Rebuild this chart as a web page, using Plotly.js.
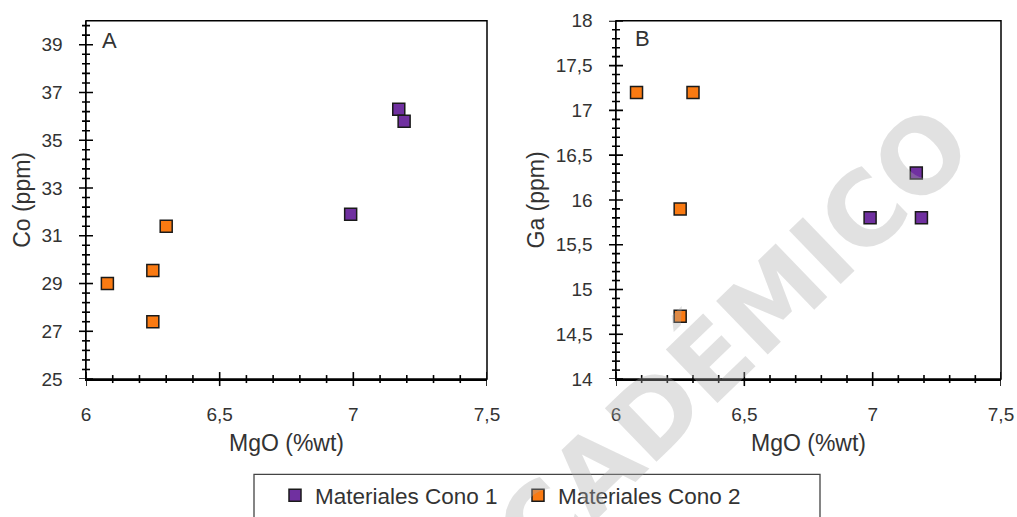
<!DOCTYPE html>
<html>
<head>
<meta charset="utf-8">
<script src="https://cdn.plot.ly/plotly-3.0.1.min.js"></script>
<style>html,body{margin:0;padding:0;background:#fff;}#chart{width:1017px;height:517px;}</style>
</head>
<body>
<div id="chart"></div>
<script>
// Data
const seriesNames = ['Materiales Cono 1', 'Materiales Cono 2'];
const mgoCono1 = [7.17, 7.19, 6.99];
const coCono1  = [36.3, 35.8, 31.9];
const gaCono1  = [16.3, 15.8, 15.8];
const mgoCono2 = [6.30, 6.08, 6.25, 6.25];
const coCono2  = [31.4, 29.0, 29.55, 27.4];
const gaCono2  = [17.2, 17.2, 15.9, 14.7];
const panelLabels = ['A', 'B'];
const xTitle = 'MgO (%wt)';
const yTitles = ['Co (ppm)', 'Ga (ppm)'];
const watermark = 'ACADÉMICO';

const purple = '#7030A0';
const orange = '#FA7A12';
const font = 'Liberation Sans, Arial, sans-serif';
const txt = '#333333';

function mk(color) {
  return {symbol: 'square', size: 12, color: color, line: {color: '#1a1a1a', width: 1.5}};
}

const traces = [
  {type: 'scatter', mode: 'markers', name: seriesNames[0], x: mgoCono1, y: coCono1, xaxis: 'x', yaxis: 'y', marker: mk(purple), legendgroup: 'c1'},
  {type: 'scatter', mode: 'markers', name: seriesNames[1], x: mgoCono2, y: coCono2, xaxis: 'x', yaxis: 'y', marker: mk(orange), legendgroup: 'c2'},
  {type: 'scatter', mode: 'markers', name: seriesNames[0], x: mgoCono1, y: gaCono1, xaxis: 'x2', yaxis: 'y2', marker: mk(purple), legendgroup: 'c1', showlegend: false},
  {type: 'scatter', mode: 'markers', name: seriesNames[1], x: mgoCono2, y: gaCono2, xaxis: 'x2', yaxis: 'y2', marker: mk(orange), legendgroup: 'c2', showlegend: false}
];

const xDomA = [86/1017, 487/1017];
const xDomB = [616/1017, 1001/1017];
const yDom = [1 - 382/517, 1 - 21/517];

function baseAxis(o) {
  return Object.assign({
    showgrid: false, zeroline: false, showline: true, linecolor: '#000', linewidth: 1.5,
    ticks: '', tickfont: {family: font, size: 19, color: txt}, ticklabelstandoff: 18
  }, o);
}

// Crossing tick marks (Excel "cross" style), drawn as axis-anchored pixel-length lines
const MAJ = 7, MIN = 4, TW = 1.6;
function xTicks(xr, yr, start, nSteps, step, majorEvery) {
  const out = [];
  for (let i = 0; i <= nSteps; i++) {
    const v = +(start + i * step).toFixed(6);
    const len = (i % majorEvery === 0) ? MAJ : MIN;
    out.push({type: 'line', xref: xr, yref: yr + ' domain', x0: v, x1: v,
      ysizemode: 'pixel', yanchor: 0, y0: -len, y1: len, line: {color: '#000', width: TW}, layer: 'above'});
  }
  return out;
}
function yTicks(xr, yr, start, nSteps, step, majorEvery) {
  const out = [];
  for (let i = 0; i <= nSteps; i++) {
    const v = +(start + i * step).toFixed(6);
    const len = (i % majorEvery === 0) ? MAJ : MIN;
    out.push({type: 'line', xref: xr + ' domain', yref: yr, y0: v, y1: v,
      xsizemode: 'pixel', xanchor: 0, x0: -len, x1: len, line: {color: '#000', width: TW}, layer: 'above'});
  }
  return out;
}

const frame = (xr, yr) => ({type: 'rect', xref: xr + ' domain', yref: yr + ' domain', x0: 0, x1: 1, y0: 0, y1: 1,
  line: {color: '#000', width: 1.5}, fillcolor: 'rgba(0,0,0,0)', layer: 'above'});

const shapes = [frame('x', 'y'), frame('x2', 'y2'),
  {type: 'rect', xref: 'paper', yref: 'paper', x0: 254/1017, x1: 820/1017, y0: 1 - 478/517, y1: -0.3,
   line: {color: '#444', width: 1.3}, fillcolor: 'rgba(0,0,0,0)'}]
  .concat(xTicks('x', 'y', 6, 15, 0.1, 5))
  .concat(yTicks('x', 'y', 25, 37, 0.4, 5))
  .concat(xTicks('x2', 'y2', 6, 15, 0.1, 5))
  .concat(yTicks('x2', 'y2', 14, 40, 0.1, 5));

const layout = {
  width: 1017, height: 517,
  margin: {l: 0, r: 0, t: 0, b: 0},
  paper_bgcolor: '#fff', plot_bgcolor: '#fff',
  separators: ', ',
  font: {family: font, color: txt},
  showlegend: true,
  legend: {orientation: 'h', x: 275/1017, xanchor: 'left', y: 1 - 478/517, yanchor: 'top',
    font: {family: font, size: 22.5, color: txt}, bgcolor: 'rgba(0,0,0,0)', borderwidth: 0,
    entrywidth: 198, entrywidthmode: 'pixels'},
  xaxis: baseAxis({domain: xDomA, anchor: 'y', range: [6, 7.5], tick0: 6, dtick: 0.5,
    title: {text: xTitle, font: {family: font, size: 23, color: txt}, standoff: 10}}),
  yaxis: baseAxis({domain: yDom, anchor: 'x', range: [25, 40], tick0: 25, dtick: 2,
    title: {text: yTitles[0], font: {family: font, size: 23, color: txt}, standoff: 4}}),
  xaxis2: baseAxis({domain: xDomB, anchor: 'y2', range: [6, 7.5], tick0: 6, dtick: 0.5,
    title: {text: xTitle, font: {family: font, size: 23, color: txt}, standoff: 10}}),
  yaxis2: baseAxis({domain: yDom, anchor: 'x2', range: [14, 18], tick0: 14, dtick: 0.5,
    title: {text: yTitles[1], font: {family: font, size: 23, color: txt}, standoff: 4}}),
  shapes: shapes,
  annotations: [
    {xref: 'paper', yref: 'paper', x: 100/1017, y: 1 - 41/517, xanchor: 'left', yanchor: 'middle',
     text: panelLabels[0], showarrow: false, font: {family: font, size: 22, color: txt}},
    {xref: 'paper', yref: 'paper', x: 633/1017, y: 1 - 39/517, xanchor: 'left', yanchor: 'middle',
     text: panelLabels[1], showarrow: false, font: {family: font, size: 22, color: txt}},
    {xref: 'paper', yref: 'paper', x: 705/1017, y: 1 - 368/517, xanchor: 'center', yanchor: 'middle',
     text: '<b>' + watermark + '</b>', showarrow: false, textangle: -44,
     font: {family: 'DejaVu Sans, sans-serif', size: 102, color: 'rgba(170,170,170,0.35)'}}
  ]
};

Plotly.newPlot('chart', traces, layout, {displayModeBar: false, staticPlot: true});
</script>
</body>
</html>
